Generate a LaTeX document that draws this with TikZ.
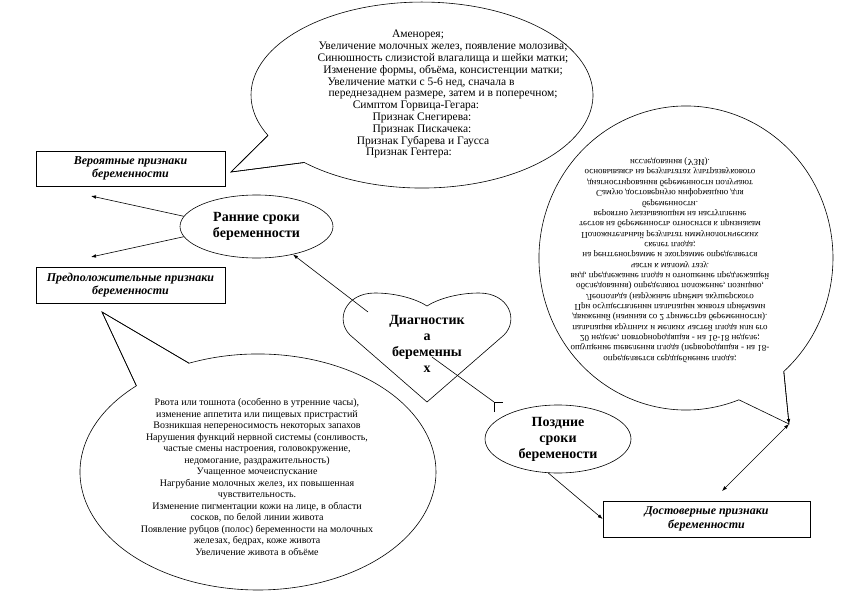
\documentclass[tikz,border=0pt]{standalone}
\usepackage{fontspec}
\setmainfont{Liberation Serif}
\usepackage{graphicx}
\usetikzlibrary{arrows.meta,shapes.geometric}
\newcommand{\clines}[3]{{\fontsize{#1}{#2}\selectfont\renewcommand{\arraystretch}{1}\begin{tabular}{@{}c@{}}#3\end{tabular}}}
\newcommand{\trail}[1]{\hspace*{#1pt}}
\begin{document}
\begin{tikzpicture}[x=1pt,y=-1pt,
  conn/.style={line width=0.6pt},
  arr/.style={conn,-{Latex[length=5pt,width=3.6pt]}},
  arrtwo/.style={conn,{Latex[length=5pt,width=3.6pt]}-{Latex[length=5pt,width=3.6pt]}},
  callout/.style={draw=black,fill=white,line width=0.6pt,line join=miter},
  oval/.style={draw,ellipse,fill=white,inner sep=0pt,align=center,line width=0.6pt,
    font=\fontsize{14}{16}\selectfont\bfseries},
  sbox/.style={draw,rectangle,fill=white,inner sep=0pt,align=center,line width=0.6pt,
    font=\fontsize{12}{13.5}\selectfont\bfseries\itshape},
  txt/.style={inner sep=0pt}]
\fill[white] (0,0) rectangle (842,596);
\useasboundingbox (0,0) rectangle (842,596);

% callouts
\coordinate (ttip) at (231,172);
\coordinate (ta) at (268.0,135.4);
\coordinate (tb) at (304.3,162.5);
\draw[callout] (tb) arc[start angle=133.5,end angle=-205.7,x radius=171,y radius=93] -- (ttip) -- cycle;
\draw[conn,line join=miter] (ta) -- (ttip) -- (tb);

\coordinate (rtip) at (789,424);
\coordinate (rbase) at (783.8,371.5);
\coordinate (rb) at (738.9,399.8);
\draw[callout] (rb) arc[start angle=68.9,end angle=408.3,x radius=147,y radius=152] -- (rtip) -- cycle;

\coordinate (ltip) at (102,312);
\coordinate (la) at (136.4,385.8);
\coordinate (lb) at (189.0,363.2);
\draw[callout] (lb) arc[start angle=-112.8,end angle=226.9,x radius=178,y radius=118] -- (ltip) -- cycle;
\draw[conn,line join=miter] (la) -- (ltip) -- (lb);

% callout texts
\node[txt] (toptext) at (443,94.6) {\clines{11.5}{11.8}{%
Аменорея;\trail{50}\\
Увеличение молочных желез, появление молозива;\\
Синюшность слизистой влагалища и шейки матки;\\
Изменение формы, объёма, консистенции матки;\\
Увеличение матки с 5-6 нед, сначала в\trail{44}\\
переднезаднем размере, затем и в поперечном;\\
Симптом Горвица-Гегара:\trail{54}\\
Признак Снегирева:\trail{42}\\
Признак Пискачека:\trail{42}\\
Признак Губарева и Гаусса\trail{40}\\
Признак Гентера:\trail{68}}};

\node[txt] (righttext) at (670,260) {\scalebox{1}[-1]{\clines{9}{10.35}{%
определяется сердцебиение плода;\\
ощущение шевеления плода (первородящая - на 18-\\
20 неделе, повторнородящая - на 16-18 неделе;\\
пальпация крупных и мелких частей плода или его\\
движений (начиная со 2 триместра беременности).\\
При осуществлении пальпации живота приёмами\\
Леопольда (наружные приёмы акушерского\\
обследования) определяют положение, позицию,\\
вид, предлежание плода и отношение предлежащей\\
части к малому тазу.\\
на рентгенограмме и эхограмме определяется\\
скелет плода;\\
Положительный результат иммунологических\\
тестов на беременность относится к признакам\\
вероятно указывающим на наступление\\
беременности.\\
Самую достоверную информацию для\\
диагностирования беременности получают\\
основываясь на результатах ультразвукового\\
исследования (УЗИ).}}};

\node[txt] (lefttext) at (257,478) {\clines{10}{11.5}{%
Рвота или тошнота (особенно в утренние часы),\\
изменение аппетита или пищевых пристрастий\\
Возникшая непереносимость некоторых запахов\\
Нарушения функций нервной системы (сонливость,\\
частые смены настроения, головокружение,\\
недомогание, раздражительность)\\
Учащенное мочеиспускание\\
Нагрубание молочных желез, их повышенная\\
чувствительность.\\
Изменение пигментации кожи на лице, в области\\
сосков, по белой линии живота\\
Появление рубцов (полос) беременности на молочных\\
железах, бедрах, коже живота\\
Увеличение живота в объёме}};

% heart
\draw[fill=white,line width=0.6pt] (427,402) -- (350,335) .. controls (335,320) and (345,293) .. (375,293)
  .. controls (398,293) and (418,300) .. (427,306)
  .. controls (436,300) and (456,293) .. (479,293)
  .. controls (509,293) and (519,320) .. (504,335) -- cycle;

% nodes
\node[oval,minimum width=153pt,minimum height=63pt] (ran) at (256.5,226.5) {Ранние сроки\\беременности};
\node[oval,minimum width=146pt,minimum height=68pt] (poz) at (558,439) {Поздние\\сроки\\беремености};
\node[sbox,minimum width=189pt,minimum height=35pt] (b1) at (130.5,168.5) {Вероятные признаки\\беременности};
\node[sbox,minimum width=189pt,minimum height=36pt] (b2) at (130.5,285) {Предположительные признаки\\беременности};
\node[sbox,minimum width=207pt,minimum height=36pt] (b3) at (706.5,519) {Достоверные признаки\\беременности};

% connectors
\coordinate (h1) at (368,312);
\coordinate (h2) at (432,357);
\coordinate (t1) at (91,196);
\coordinate (t2) at (91,257);
\coordinate (t3) at (722,491);
\coordinate (k) at (494,402);
\draw[arr] (h1) -- (ran);
\draw[arr] (ran.172) -- (t1);
\draw[arr] (ran.188) -- (t2);
\draw[conn] (h2) -- (k);
\draw[conn] ([yshift=-10pt]k) -- (k) -- ([xshift=9pt]k);
\draw[arr] (poz.254) -- (b3.west);
\draw[arr] (rbase) -- (rtip);
\draw[arrtwo] (rtip) -- (t3);

\node[inner sep=0pt,align=center,font=\fontsize{14}{16}\selectfont\bfseries] (heart) at (427,344) {Диагностик\\а\\беременны\\х};
\end{tikzpicture}
\end{document}
